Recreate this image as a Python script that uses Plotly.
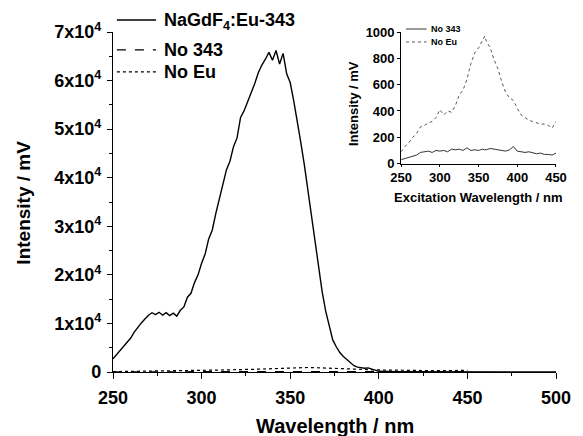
import plotly.graph_objects as go

# ---------------- data ----------------
em_wl = [250, 252, 254, 256, 258, 260, 262, 264, 266, 268, 270, 272, 274, 276, 278, 280,
         282, 284, 286, 288, 290, 292, 294, 296, 298, 300, 302, 304, 306, 308, 310, 312,
         314, 316, 318, 320, 322, 324, 326, 328, 330, 332, 334, 336, 338, 340, 342, 344,
         346, 348, 350, 352, 354, 356, 358, 360, 362, 364, 366, 368, 370, 372, 374, 376,
         378, 380, 382, 384, 386, 388, 390, 392, 394, 396, 398, 400, 410, 420, 430, 440,
         450, 460, 470, 480, 490, 500]
em_main = [2700, 3600, 4300, 5300, 6200, 7000, 8200, 9200, 10100, 10900, 11700, 12200, 11800, 12300, 11700, 12200,
           11600, 12100, 11500, 12700, 13400, 15400, 16200, 18400, 20000, 22400, 24300, 27400, 29200, 32600, 35400, 38400,
           41600, 43400, 46400, 48200, 52400, 53800, 55600, 57600, 59400, 61600, 63200, 64400, 65800, 64200, 66200, 63400,
           65600, 61400, 59600, 55800, 51800, 47200, 42600, 37400, 31400, 26200, 21600, 16600, 12600, 9600, 6600, 5200,
           4000, 3200, 2500, 1800, 1300, 1000, 820, 780, 850, 600, 300, 140, 60, 40, 30, 20,
           20, 10, 10, 10, 10, 10]

ex_wl = [250, 255, 260, 265, 270, 275, 280, 285, 290, 295, 300, 305, 310, 315, 320, 325,
         330, 335, 340, 345, 350, 355, 358, 360, 365, 370, 375, 380, 385, 390, 395, 400,
         405, 410, 415, 420, 425, 430, 435, 440, 445, 450]
no_eu = [90, 130, 160, 200, 230, 280, 290, 310, 320, 350, 410, 370, 400, 390, 440, 520,
         560, 640, 760, 840, 880, 930, 970, 930, 880, 790, 720, 620, 540, 500, 480, 420,
         370, 350, 330, 320, 310, 300, 300, 290, 270, 320]
no_343 = [30, 40, 50, 60, 65, 85, 90, 95, 85, 100, 95, 100, 90, 110, 105, 110,
          100, 120, 100, 105, 100, 110, 105, 105, 115, 110, 105, 100, 95, 105, 130, 95,
          90, 85, 90, 80, 75, 80, 70, 70, 65, 80]

main_tickvals = [0, 10000, 20000, 30000, 40000, 50000, 60000, 70000]
main_ticktext = ["0", "1x10<sup>4</sup>", "2x10<sup>4</sup>", "3x10<sup>4</sup>", "4x10<sup>4</sup>",
                 "5x10<sup>4</sup>", "6x10<sup>4</sup>", "7x10<sup>4</sup>"]

FONT = "Arial, Liberation Sans, sans-serif"

fig = go.Figure()
# main panel
fig.add_trace(go.Scatter(x=em_wl, y=em_main, mode="lines", line=dict(color="black", width=1.4),
                         name="NaGdF4:Eu-343", showlegend=False, xaxis="x", yaxis="y"))
fig.add_trace(go.Scatter(x=ex_wl, y=no_343, mode="lines", line=dict(color="black", width=1.2, dash="dash"),
                         name="No 343", showlegend=False, xaxis="x", yaxis="y"))
fig.add_trace(go.Scatter(x=ex_wl, y=no_eu, mode="lines", line=dict(color="black", width=1.2, dash="dot"),
                         name="No Eu", showlegend=False, xaxis="x", yaxis="y"))
# inset
fig.add_trace(go.Scatter(x=ex_wl, y=no_343, mode="lines", line=dict(color="#333333", width=1),
                         name="No 343", showlegend=False, xaxis="x2", yaxis="y2"))
fig.add_trace(go.Scatter(x=ex_wl, y=no_eu, mode="lines", line=dict(color="#555555", width=1, dash="dot"),
                         name="No Eu", showlegend=False, xaxis="x2", yaxis="y2"))

# the page body has an 8px margin, so the figure is 8px smaller and offset
OFF = 8
W, H = 583 - OFF, 436 - OFF
L, T = 113, 31            # plot-area corner in window pixels
R, B = 16.5, 64
pw, ph = 583 - L - R, 436 - T - B


def px(xp):
    return (xp - L) / pw


def py(yp):
    return (436 - B - yp) / ph


bold = dict(family=FONT, color="black", weight="bold")

fig.update_layout(
    width=W, height=H,
    margin=dict(l=L - OFF, r=R, t=T - OFF, b=B, pad=0),
    plot_bgcolor="white", paper_bgcolor="white",
    showlegend=False,
    xaxis=dict(range=[250, 500], domain=[0, 1], showgrid=False, zeroline=False,
               showline=True, linecolor="black", linewidth=1.2,
               ticks="outside", ticklen=6, tickwidth=1.2, tickcolor="black",
               tickvals=[250, 300, 350, 400, 450, 500],
               tickfont=dict(size=18, **bold), ticklabelstandoff=3,
               minor=dict(ticks="outside", ticklen=3, tickwidth=1, tickcolor="black", dtick=25)),
    yaxis=dict(range=[0, 70000], domain=[0, 1], showgrid=False, zeroline=False,
               showline=True, linecolor="black", linewidth=1.2,
               ticks="outside", ticklen=5, tickwidth=1.2, tickcolor="black",
               tickvals=main_tickvals, ticktext=main_ticktext,
               tickfont=dict(size=18, **bold), ticklabelstandoff=2,
               minor=dict(ticks="outside", ticklen=3, tickwidth=1, tickcolor="black", dtick=5000)),
    xaxis2=dict(range=[250, 450], domain=[px(408), 1.0], anchor="y2", showgrid=False, zeroline=False,
                showline=True, linecolor="black", linewidth=1,
                ticks="outside", ticklen=2, tickcolor="black",
                tickvals=[250, 300, 350, 400, 450],
                tickfont=dict(size=13, **bold), ticklabelstandoff=0),
    yaxis2=dict(range=[0, 1000], domain=[py(163), py(31)], anchor="x2", showgrid=False, zeroline=False,
                showline=True, linecolor="black", linewidth=1,
                ticks="outside", ticklen=3, tickcolor="black",
                tickvals=[0, 200, 400, 600, 800, 1000],
                tickfont=dict(size=13, **bold), ticklabelstandoff=0),
)

annos = [
    dict(text="Wavelength / nm", x=0.5, y=py(426), font=dict(size=20, **bold)),
    dict(text="Intensity / mV", x=px(21), y=py(202), textangle=-90, font=dict(size=19, **bold)),
    dict(text="Excitation Wavelength / nm", x=px(487), y=py(197), font=dict(size=13, **bold)),
    dict(text="Intensity / mV", x=px(360), y=py(103), textangle=-90, font=dict(size=13, **bold)),
    dict(text="NaGdF<sub>4</sub>:Eu-343", x=px(163), y=py(20), xanchor="left", font=dict(size=18, **bold)),
    dict(text="No 343", x=px(163), y=py(49), xanchor="left", font=dict(size=18, **bold)),
    dict(text="No Eu", x=px(163), y=py(71), xanchor="left", font=dict(size=18, **bold)),
    dict(text="No 343", x=px(436), y=py(28), xanchor="left", font=dict(size=9, **bold)),
    dict(text="No Eu", x=px(436), y=py(41), xanchor="left", font=dict(size=9, **bold)),
]
for a in annos:
    a.setdefault("xanchor", "center")
    fig.add_annotation(xref="paper", yref="paper", showarrow=False, yanchor="middle", **a)

legend_lines = [
    (117, 157, 19, "black", 1.5, "solid"),
    (117, 157, 49, "black", 1.2, "dash"),
    (117, 157, 71, "black", 1.2, "dot"),
    (413, 434, 28, "#333333", 1, "solid"),
    (413, 434, 41, "#555555", 1, "dot"),
]
for x0, x1, yy, c, w, d in legend_lines:
    fig.add_shape(type="line", xref="paper", yref="paper", x0=px(x0), x1=px(x1), y0=py(yy), y1=py(yy),
                  line=dict(color=c, width=w, dash=d))

fig.write_html("out.html")
